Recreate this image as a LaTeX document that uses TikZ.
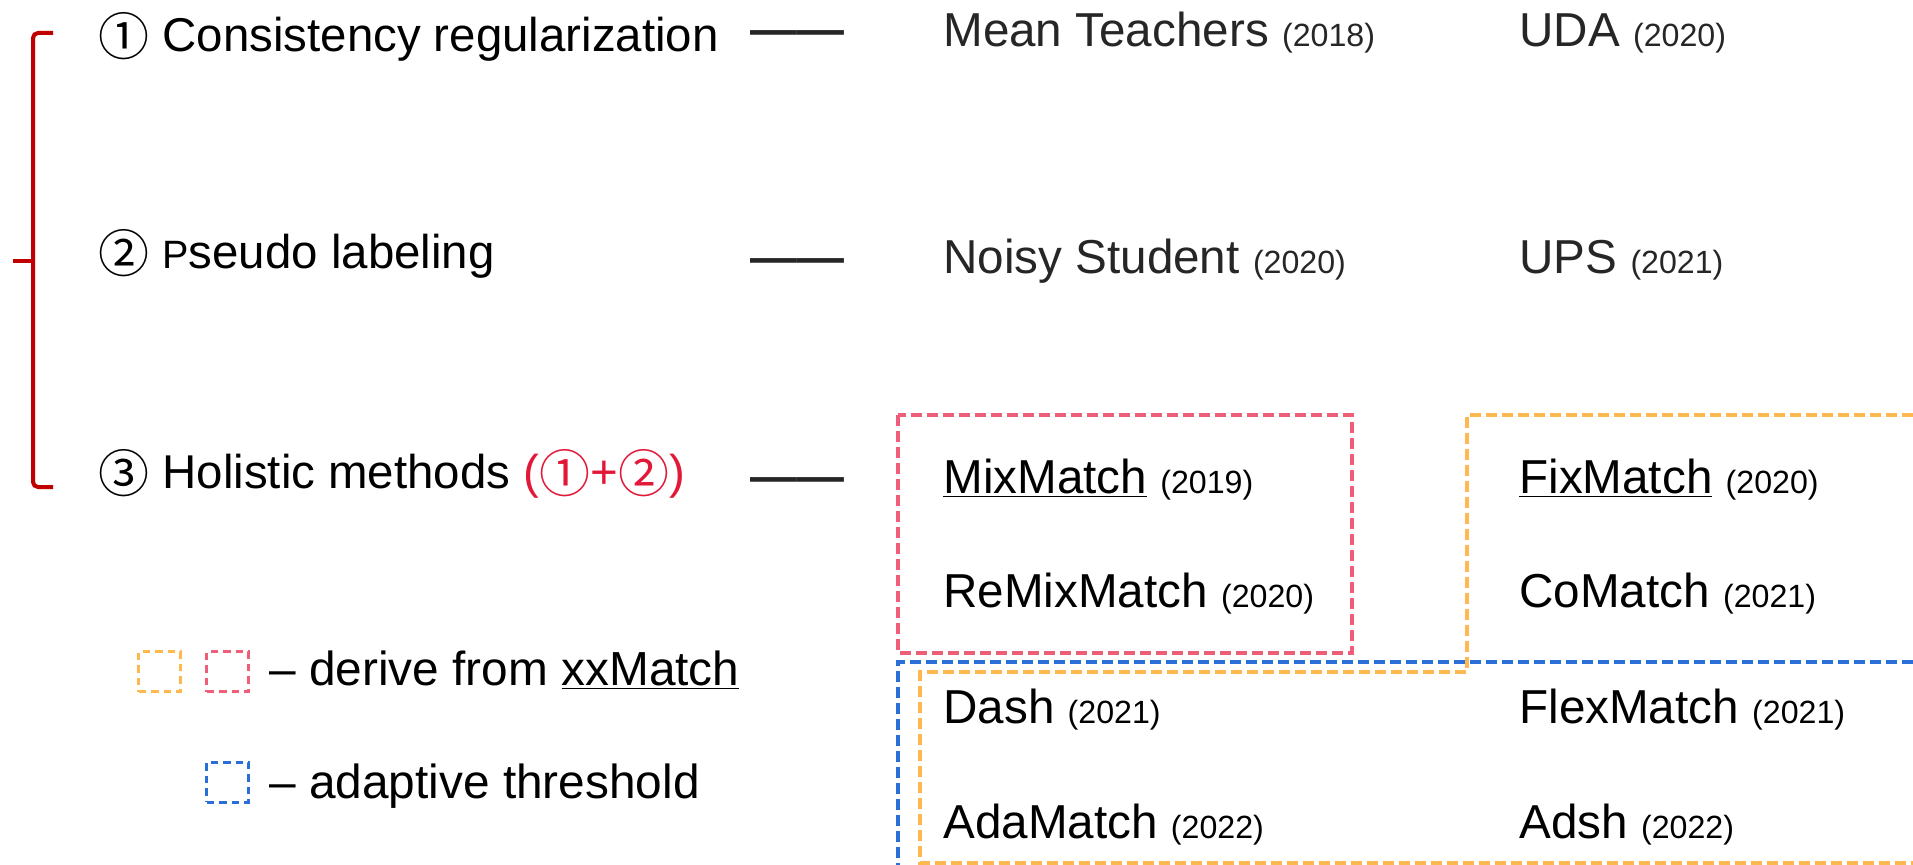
\documentclass[tikz,border=0pt]{standalone}
\usepackage{fontspec}
\setmainfont{Liberation Sans}
\newfontfamily\circfont{Noto Sans CJK SC}
\usetikzlibrary{positioning}
\definecolor{mybrace}{RGB}{192,0,0}
\definecolor{myredtext}{RGB}{225,24,55}
\definecolor{mypink}{RGB}{238,94,120}
\definecolor{myorange}{RGB}{255,184,79}
\definecolor{myblue}{RGB}{42,110,216}
\definecolor{mygray}{RGB}{38,38,38}
\newcommand{\circnum}[1]{\raisebox{-0.08cm}{\circfont\fontsize{29}{30}\selectfont #1}}
\newcommand{\yr}[1]{{\fontsize{18.3}{20}\selectfont (#1)}}
\tikzset{
  cat/.style = {anchor=base west, inner sep=0pt, text=black,
                font=\fontsize{27}{30}\selectfont},
  method/.style = {anchor=base west, inner sep=0pt, text=black,
                   font=\fontsize{27.1}{30}\selectfont},
  oldmethod/.style = {method, text=mygray},
  linkdash/.style = {anchor=base west, inner sep=0pt, text=mygray,
                     font=\fontsize{26.7}{30}\selectfont\bfseries},
  legend/.style = {anchor=base west, inner sep=0pt, text=black,
                   font=\fontsize{27.2}{30}\selectfont}
}

\begin{document}
\begin{tikzpicture}[
    x=0.02cm, y=-0.02cm,
    box/.style={line width=0.08cm, dash pattern=on 0.22cm off 0.1cm},
    key/.style={draw, line width=0.06cm, dash pattern=on 0.15cm off 0.1cm,
                minimum width=0.84cm, minimum height=0.8cm, inner sep=0pt}
    ]
\useasboundingbox (0,0) rectangle (1913,865);

%Brace
\draw[mybrace, line width=0.08cm, rounded corners=0.1cm]
    (53,33) -- (33,33) -- (33,487) -- (53,487);
\draw[mybrace, line width=0.08cm] (34,261) -- (13,261);

%Left part, categories
\node[cat] (cons) at (98,52) {\circnum{①} Consistency regularization};
\node[cat] (pseudo) at (98,268) {\circnum{②} {\fontsize{22.5}{22}\selectfont P}seudo labeling};
\node[cat] (holi) at (98,488)
    {\circnum{③} Holistic methods \textcolor{myredtext}{(\circnum{①}+\circnum{②})}};

\node[linkdash] (dash1) at (750,46) {——};
\node[linkdash] (dash2) at (750,273) {——};
\node[linkdash] (dash3) at (750,492) {——};

%Right part, methods
\node[oldmethod] (mt) at (943,47) {Mean Teachers \yr{2018}};
\node[oldmethod] (uda) at (1519,47) {UDA \yr{2020}};
\node[oldmethod] (noisy) at (943,273) {Noisy Student \yr{2020}};
\node[oldmethod] (ups) at (1519,273) {UPS \yr{2021}};

\node[method] (mix) at (943,493) {\underline{MixMatch} \yr{2019}};
\node[method] (fix) at (1519,493) {\underline{FixMatch} \yr{2020}};
\node[method] (remix) at (943,607) {ReMixMatch \yr{2020}};
\node[method] (co) at (1519,607) {CoMatch \yr{2021}};
\node[method] (dashm) at (943,723) {Dash \yr{2021}};
\node[method] (flex) at (1519,723) {FlexMatch \yr{2021}};
\node[method] (ada) at (943,838) {AdaMatch \yr{2022}};
\node[method] (adsh) at (1519,838) {Adsh \yr{2022}};

%Groups
\draw[box, myblue] (1913,662) -- (898,662) -- (898,865);
\draw[box, mypink] (898,415) rectangle (1352,653);
\draw[box, myorange] (1913,415) -- (1467,415) -- (1467,672) -- (920,672)
    -- (920,863) -- (1913,863);

%Legend
\node[key, myorange] (keyorange) at (159.5,671.5) {};
\node[key, mypink] (keypink) at (227.5,671.5) {};
\node[key, myblue] (keyblue) at (227.5,782) {};
\node[legend] (derive) at (269,685) {– derive from \underline{xxMatch}};
\node[legend] (adapt) at (269,798) {– adaptive threshold};
\end{tikzpicture}
\end{document}
